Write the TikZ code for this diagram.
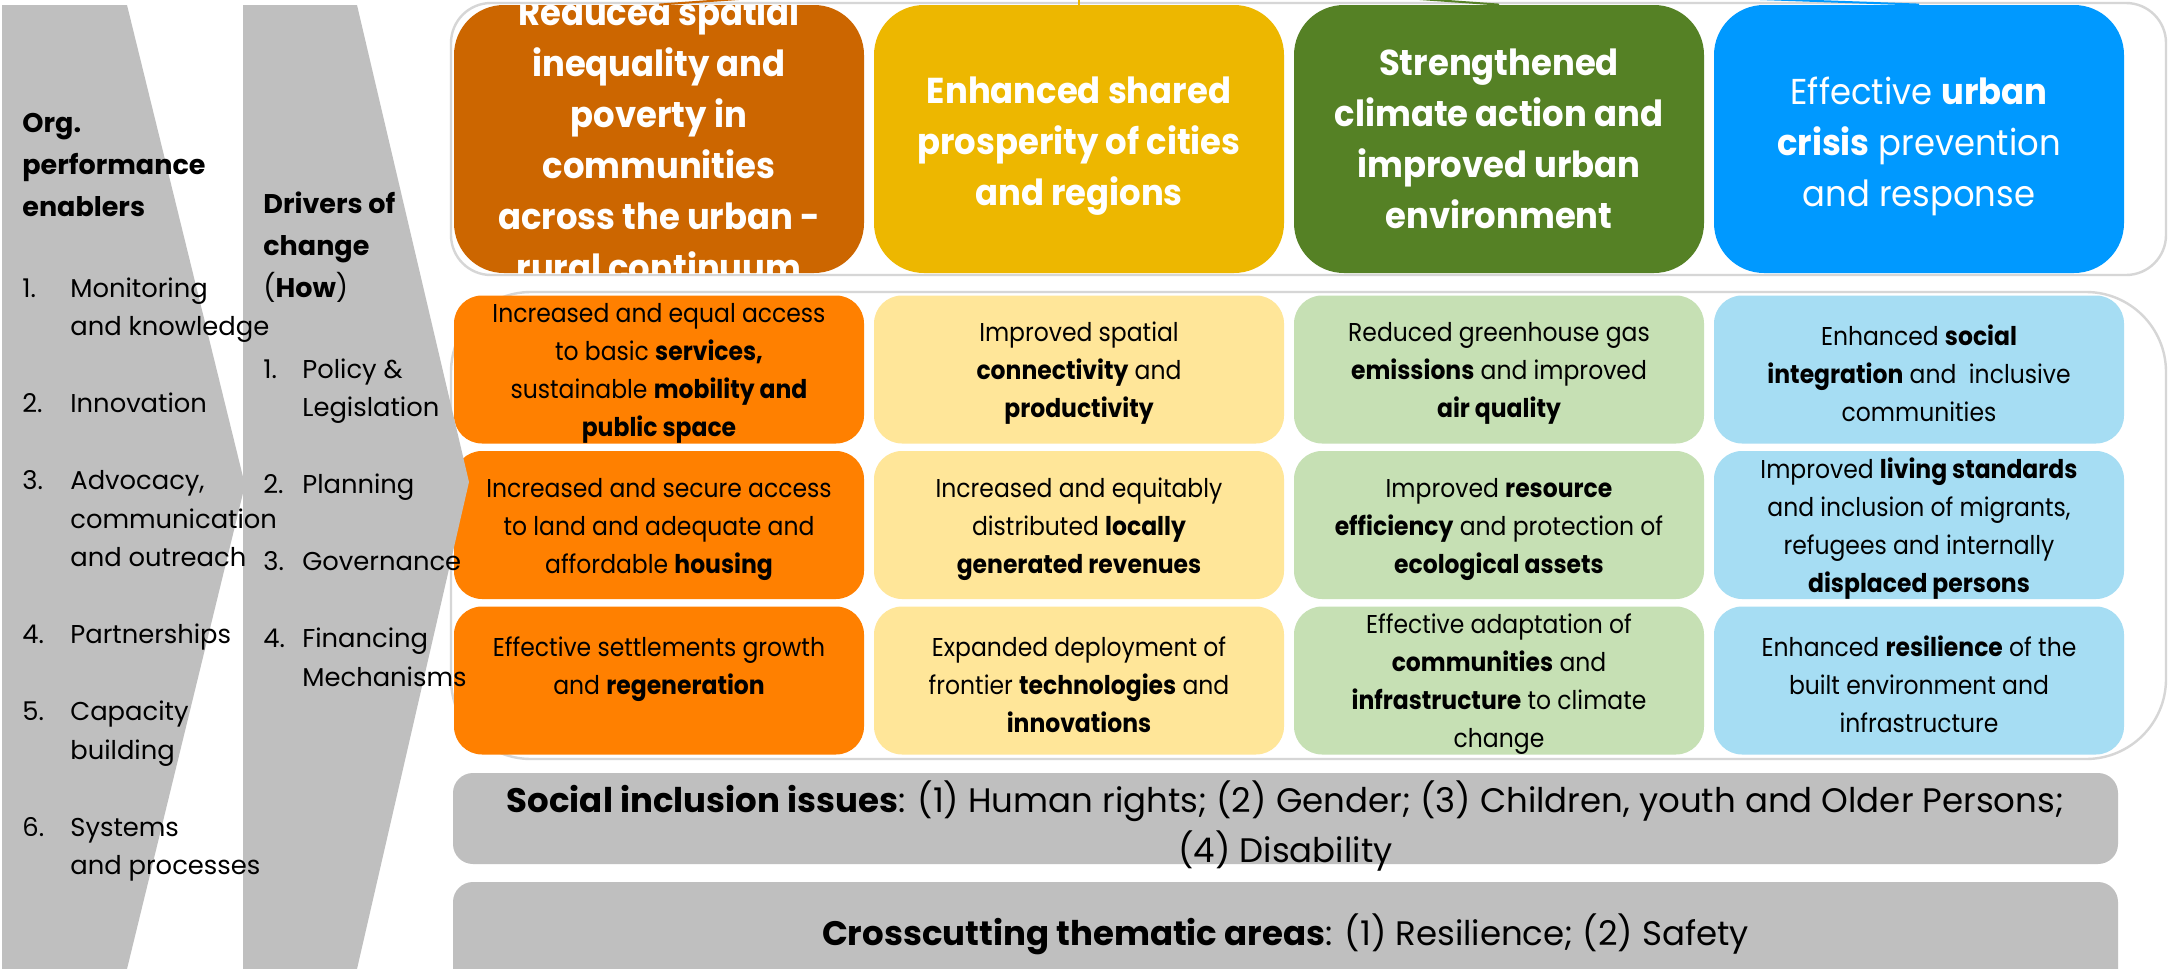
\documentclass[tikz,border=0pt]{standalone}
\usepackage{fontspec}
\setmainfont{Poppins}
\newfontfamily\cellfam{Poppins}[FakeStretch=0.91]
\newfontfamily\hdfam{Poppins}[FakeStretch=0.94]
\definecolor{hdorange}{HTML}{CC6600}
\definecolor{hdyellow}{HTML}{EDB700}
\definecolor{hdgreen}{HTML}{558125}
\definecolor{hdblue}{HTML}{0099FF}
\definecolor{cellorange}{HTML}{FF8000}
\definecolor{cellyellow}{HTML}{FFE699}
\definecolor{cellgreen}{HTML}{C6E0B4}
\definecolor{cellblue}{HTML}{A6DDF3}
\definecolor{bargray}{HTML}{BFBFBF}
\definecolor{panelline}{HTML}{D6D6D6}
\newcommand{\hdfont}{\hdfam\fontsize{18}{25.5}\selectfont}
\newcommand{\cellfont}{\cellfam\fontsize{12.9}{19}\selectfont}
\newcommand{\listfont}{\fontsize{12.9}{19.25}\selectfont}
\newcommand{\headfont}{\fontsize{13.5}{21}\selectfont\bfseries}
\newcommand{\barfont}{\fontsize{17}{25}\selectfont}
\tikzstyle{panel} = [rectangle, rounded corners=20pt, draw=panelline, line width=1.2pt, fill=white, inner sep=0pt]
\tikzstyle{hdbox} = [rectangle, rounded corners=25pt, minimum width=205pt, minimum height=134pt, inner sep=0pt]
\tikzstyle{hdtext} = [text=white, align=center, font=\hdfont\bfseries, inner sep=0pt]
\tikzstyle{cell} = [rectangle, rounded corners=14pt, minimum width=205pt, minimum height=74pt, align=center, font=\cellfont, inner sep=0pt]
\tikzstyle{celltext} = [align=center, font=\cellfont, inner sep=0pt, yshift=-2pt]
\tikzstyle{bar} = [rectangle, rounded corners=10pt, fill=bargray, minimum width=832.5pt, inner sep=0pt]
\tikzstyle{bartext} = [align=center, font=\barfont, inner sep=0pt]
\tikzstyle{chev} = [fill=bargray]
\tikzstyle{topline} = [line width=1pt]
\tikzstyle{listtext} = [anchor=base west, inner sep=0pt, font=\listfont]
\tikzstyle{headtext} = [anchor=base west, inner sep=0pt, font=\headfont]
\begin{document}
\begin{tikzpicture}[x=0.5pt, y=-0.5pt, node distance=210pt]

\useasboundingbox (0,0) rectangle (2169,969);
\fill [white] (0,0) rectangle (2169,969);

% frames behind the two blocks
\node (toppanel) [panel, minimum width=857.5pt, minimum height=136pt] at (1308.5,139) {};
\node (midpanel) [panel, rounded corners=40pt, minimum width=857.5pt, minimum height=233.5pt] at (1308.5,525.5) {};

% outcome headers
\node (hA) [hdbox, fill=hdorange] at (659,139) {};
\begin{scope}
\clip [rounded corners=25pt] (hA.south west) rectangle (hA.north east);
\node (hAtext) [hdtext] at (hA) {Reduced spatial\\inequality and\\poverty in\\communities\\across the urban -\\rural continuum};
\end{scope}
\node (hB) [hdbox, fill=hdyellow, right of=hA] {};
\node (hBtext) [hdtext, yshift=-3.5pt] at (hB) {Enhanced shared\\prosperity of cities\\and regions};
\node (hC) [hdbox, fill=hdgreen, right of=hB] {};
\node (hCtext) [hdtext] at (hC) {Strengthened\\climate action and\\improved urban\\environment};
\node (hD) [hdbox, fill=hdblue, right of=hC] {};
\node (hDtext) [hdtext, font=\hdfont, yshift=-3.5pt] at (hD) {Effective \textbf{urban}\\\textbf{crisis} prevention\\and response};

% links going up out of the picture
\coordinate (hub) at (1079,-25);
\draw [topline, draw=hdorange] (hA.north) -- (hub);
\draw [topline, draw=hdyellow] (hB.north) -- (hub);
\draw [topline, draw=hdgreen] (hC.north) -- (hub);
\draw [topline, draw=hdblue] (hD.north) -- (hub);

% outcome cells, row 1
\node (cA1) [cell, fill=cellorange] at (659,369.5) {};
\node (cB1) [cell, fill=cellyellow, right of=cA1] {};
\node (cC1) [cell, fill=cellgreen, right of=cB1] {};
\node (cD1) [cell, fill=cellblue, right of=cC1] {};
\node (tA1) [celltext] at (cA1) {Increased and equal access\\to basic \textbf{services,}\\sustainable \textbf{mobility and}\\\textbf{public space}};
\node (tB1) [celltext] at (cB1) {Improved spatial\\\textbf{connectivity} and\\\textbf{productivity}};
\node (tC1) [celltext] at (cC1) {Reduced greenhouse gas\\\textbf{emissions} and improved\\\textbf{air quality}};
\node (tD1) [celltext] at (cD1) {Enhanced \textbf{social}\\\textbf{integration} and\ \ inclusive\\communities};

% row 2
\node (cA2) [cell, fill=cellorange] at (659,525) {};
\node (cB2) [cell, fill=cellyellow, right of=cA2] {};
\node (cC2) [cell, fill=cellgreen, right of=cB2] {};
\node (cD2) [cell, fill=cellblue, right of=cC2] {};
\node (tA2) [celltext] at (cA2) {Increased and secure access\\to land and adequate and\\affordable \textbf{housing}};
\node (tB2) [celltext] at (cB2) {Increased and equitably\\distributed \textbf{locally}\\\textbf{generated revenues}};
\node (tC2) [celltext] at (cC2) {Improved \textbf{resource}\\\textbf{efficiency} and protection of\\\textbf{ecological assets}};
\node (tD2) [celltext] at (cD2) {Improved \textbf{living standards}\\and inclusion of migrants,\\refugees and internally\\\textbf{displaced persons}};

% row 3
\node (cA3) [cell, fill=cellorange] at (659,680.5) {};
\node (cB3) [cell, fill=cellyellow, right of=cA3] {};
\node (cC3) [cell, fill=cellgreen, right of=cB3] {};
\node (cD3) [cell, fill=cellblue, right of=cC3] {};
\node (tA3) [celltext] at (cA3) {Effective settlements growth\\and \textbf{regeneration}\\\mbox{}};
\node (tB3) [celltext] at (cB3) {Expanded deployment of\\frontier \textbf{technologies} and\\\textbf{innovations}};
\node (tC3) [celltext] at (cC3) {Effective adaptation of\\\textbf{communities} and\\\textbf{infrastructure} to climate\\change};
\node (tD3) [celltext] at (cD3) {Enhanced \textbf{resilience} of the\\built environment and\\infrastructure};

% crosscutting bars
\node (social) [bar, minimum height=45.5pt] at (1285.5,818.5) {};
\node (socialtext) [bartext, yshift=-3.5pt] at (social) {\textbf{Social inclusion issues}: (1) Human rights; (2) Gender; (3) Children, youth and Older Persons;\\(4) Disability};
\node (cross) [bar, minimum height=54pt] at (1285.5,936) {};
\node (crosstext) [bartext, yshift=1pt] at (cross) {\textbf{Crosscutting thematic areas}: (1) Resilience; (2) Safety};

% the two chevrons
\fill [chev] (2,5) -- (127,5) -- (245,485) -- (127,969) -- (2,969) -- cycle;
\fill [chev] (243,5) -- (357,5) -- (469,482) -- (357,969) -- (243,969) -- cycle;

\node (orghead) [headtext] at (22,132) {\begin{tabular}[t]{@{}l@{}}Org.\\performance\\enablers\end{tabular}};
\node (orglist) [listtext] at (22,297) {\begin{tabular}[t]{@{}p{24pt}@{}l@{}}
1. & Monitoring\\ & and knowledge\\[19.25pt]
2. & Innovation\\[19.25pt]
3. & Advocacy,\\ & communication\\ & and outreach\\[19.25pt]
4. & Partnerships\\[19.25pt]
5. & Capacity\\ & building\\[19.25pt]
6. & Systems\\ & and processes
\end{tabular}};

\node (drvhead) [headtext] at (263,213) {\begin{tabular}[t]{@{}l@{}}Drivers of\\change\\{\mdseries(}How{\mdseries)}\end{tabular}};
\node (drvlist) [listtext] at (263,378) {\begin{tabular}[t]{@{}p{19.5pt}@{}l@{}}
1. & Policy \&\\ & Legislation\\[19.25pt]
2. & Planning\\[19.25pt]
3. & Governance\\[19.25pt]
4. & Financing\\ & Mechanisms
\end{tabular}};

\end{tikzpicture}
\end{document}
